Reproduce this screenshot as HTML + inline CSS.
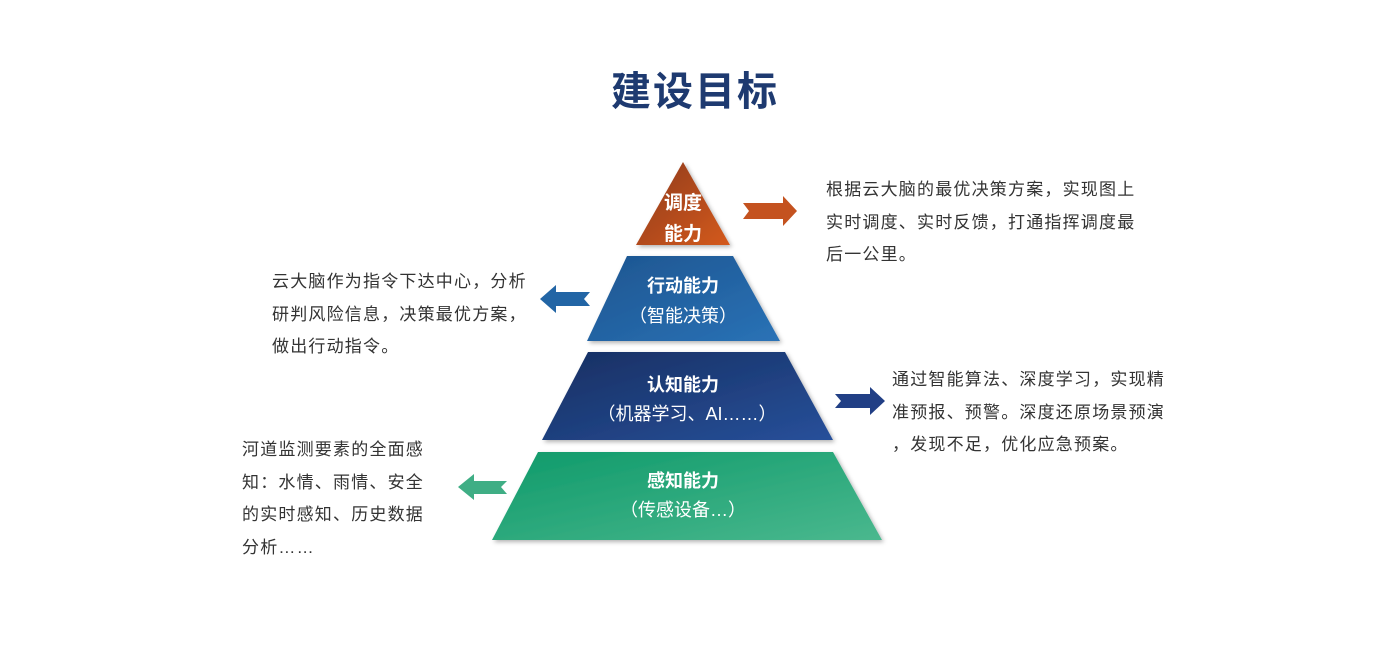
<!DOCTYPE html>
<html><head><meta charset="utf-8"><style>
body{margin:0;width:1400px;height:669px;background:#fff;position:relative;overflow:hidden;font-family:"Liberation Sans","Noto Sans CJK SC",sans-serif}
.t{position:absolute;color:#333;font-size:17px;letter-spacing:1.2px;line-height:32.5px;white-space:nowrap}
h1{position:absolute;left:0;width:1390px;top:59px;margin:0;text-align:center;font-size:40px;font-weight:bold;color:#1e3a70;letter-spacing:2px}
svg{position:absolute;left:0;top:0}
</style></head><body>
<h1>建设目标</h1>
<svg width="1400" height="669">
<defs>
<linearGradient id="g1" x1="0" y1="0" x2="1" y2="1"><stop offset="0" stop-color="#8e3a1e"/><stop offset="1" stop-color="#d45a1e"/></linearGradient>
<linearGradient id="g2" x1="0" y1="0" x2="1" y2="1"><stop offset="0" stop-color="#1d5590"/><stop offset="1" stop-color="#2a72b6"/></linearGradient>
<linearGradient id="g3" x1="0" y1="0" x2="1" y2="1"><stop offset="0" stop-color="#172f62"/><stop offset="1" stop-color="#27509a"/></linearGradient>
<linearGradient id="g4" x1="0" y1="0" x2="1" y2="1"><stop offset="0" stop-color="#0f9a6a"/><stop offset="1" stop-color="#4ab88e"/></linearGradient>
<filter id="s"><feDropShadow dx="2" dy="2" stdDeviation="2" flood-opacity="0.3"/></filter>
</defs>
<g filter="url(#s)">
<polygon points="683,162 730,245 636,245" fill="url(#g1)"/>
<polygon points="627,256 733,256 780,341 587,341" fill="url(#g2)"/>
<polygon points="588,352 785,352 833,440 542,440" fill="url(#g3)"/>
<polygon points="538,452 833,452 882,540 492,540" fill="url(#g4)"/>
</g>
<polygon points="743,203 783,203 783,196 797,211 783,226 783,219 743,219 749,211" fill="#c4521f"/>
<polygon points="590,292 556,292 556,285 540,299 556,313 556,306 590,306 584,299" fill="#2265a5"/>
<polygon points="835,394 870,394 870,387 885,401 870,415 870,408 835,408 841,401" fill="#213f85"/>
<polygon points="507,481 474,481 474,474 458,487 474,500 474,494 507,494 501,487" fill="#3fae85"/>
<g font-family="Liberation Sans,Noto Sans CJK SC,sans-serif" fill="#fff" text-anchor="middle">
<text x="683" y="209" font-size="19" font-weight="bold">调度</text>
<text x="683" y="240" font-size="19" font-weight="bold">能力</text>
<text x="683" y="292" font-size="18" font-weight="bold">行动能力</text>
<text x="683" y="322" font-size="18">（智能决策）</text>
<text x="683" y="391" font-size="18" font-weight="bold">认知能力</text>
<text x="687" y="420" font-size="18">（机器学习、AI……）</text>
<text x="683" y="487" font-size="18" font-weight="bold">感知能力</text>
<text x="683" y="516" font-size="18">（传感设备…）</text>
</g>
</svg>
<div class="t" style="left:826px;top:174px">根据云大脑的最优决策方案，实现图上<br>实时调度、实时反馈，打通指挥调度最<br>后一公里。</div>
<div class="t" style="left:272px;top:266px">云大脑作为指令下达中心，分析<br>研判风险信息，决策最优方案，<br>做出行动指令。</div>
<div class="t" style="left:892px;top:364px">通过智能算法、深度学习，实现精<br>准预报、预警。深度还原场景预演<br>，发现不足，优化应急预案。</div>
<div class="t" style="left:242px;top:434px">河道监测要素的全面感<br>知：水情、雨情、安全<br>的实时感知、历史数据<br>分析……</div>
</body></html>
